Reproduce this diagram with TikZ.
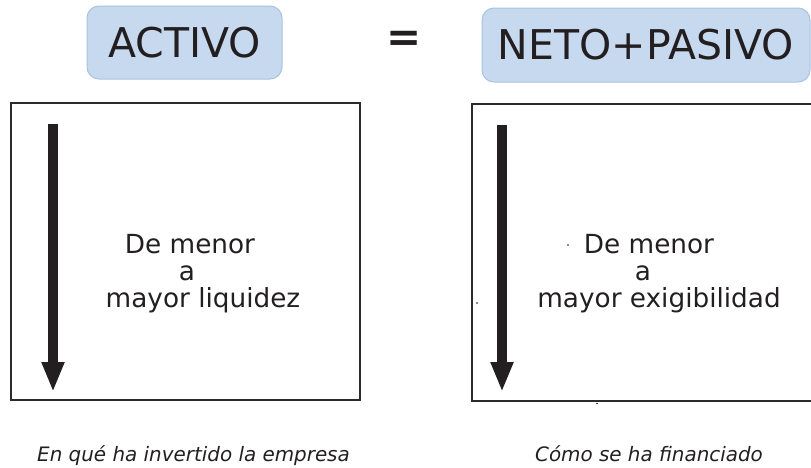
\documentclass[tikz,border=0pt]{standalone}
\usepackage{fontspec}
\setmainfont{DejaVu Sans}
\usetikzlibrary{arrows.meta, positioning}
\definecolor{lblue}{HTML}{C6D9EF}
\definecolor{lbluedk}{HTML}{A9C3E1}
\definecolor{ink}{HTML}{231F20}
\definecolor{frame}{HTML}{2B2B2B}

\begin{document}
\begin{tikzpicture}[
  x=1pt, y=-1pt,
  title/.style={
    draw=lbluedk, line width=1pt, fill=lblue, rounded corners=12pt,
    font=\fontsize{41}{44}\selectfont, text=ink, inner sep=0pt
  },
  panel/.style={
    draw=frame, line width=2.5pt, minimum height=297pt, inner sep=0pt
  },
  body/.style={font=\fontsize{26.3}{28}\selectfont, text=ink, anchor=base},
  note/.style={font=\fontsize{19.9}{22}\selectfont\itshape, text=ink, anchor=base},
  bigarr/.style={-{Triangle[length=30pt, width=21pt]}, line width=10pt, ink},
]

\useasboundingbox (0,0) rectangle (811,467);
\clip (0,0) rectangle (811,467);

% Titles
\node[title, minimum width=195pt, minimum height=73pt] (activo) at (184.5,42.5) {ACTIVO};
\node[font=\fontsize{42}{44}\selectfont\bfseries, text=ink] (igual) at (404,41) {=};
\node[title, minimum width=328pt, minimum height=74pt] (netopas) at (646,45) {NETO+PASIVO};

% =============================================
% LEFT: Activo
% =============================================
\node[panel, minimum width=349pt] (act-box) at (185.5,251.5) {};

\coordinate (act-top) at (53,124);
\coordinate (act-end) at (53,392);
\draw[bigarr] (act-top) -- (act-end);

\node[body] (act-l1) at (190,253) {De menor};
\node[body] (act-l2) at (187,280) {a};
\node[body] (act-l3) at (203,307) {mayor liquidez};

\node[note] (act-note) at (193.5,461) {En qué ha invertido la empresa};

% =============================================
% RIGHT: Neto + Pasivo
% =============================================
\node[panel, minimum width=350pt] (pas-box) at (647,252.5) {};

\coordinate (pas-top) at (502,125);
\coordinate (pas-end) at (502,392);
\draw[bigarr] (pas-top) -- (pas-end);

\node[body] (pas-l1) at (649,253) {De menor};
\node[body] (pas-l2) at (643,280) {a};
\node[body] (pas-l3) at (659,307) {mayor exigibilidad};

\node[note] (pas-note) at (649,461) {Cómo se ha financiado};

% stray marks
\fill[ink] (568,245) circle (0.8pt);
\fill[ink!70] (477,303) circle (1.1pt);
\fill[ink] (597,403.5) circle (0.8pt);

\end{tikzpicture}
\end{document}
